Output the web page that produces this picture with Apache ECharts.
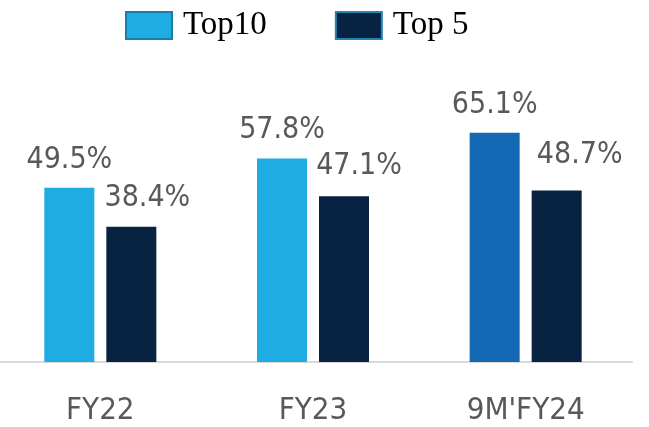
<!DOCTYPE html>
<html>
<head>
<meta charset="utf-8">
<script src="https://cdn.jsdelivr.net/npm/echarts@6/dist/echarts.min.js"></script>
<style>
  html, body { margin: 0; padding: 0; background: #fff; }
  #main { width: 649px; height: 427px; }
</style>
</head>
<body>
<div id="main"></div>
<script>
// data
const categories = ["FY22", "FY23", "9M'FY24"];
const top10 = [49.5, 57.8, 65.1];
const top5 = [38.4, 47.1, 48.7];
// Top 5 labels sit to the right of their bars in the original
const top5LabelShift = [[16, -1], [15, -2], [23, -7]];

const LIGHT = '#1FACE3';
const DARK_BLUE = '#1268B3';
const NAVY = '#082241';
const labelFont = '"Liberation Sans Narrow", "DejaVu Sans Condensed", sans-serif';

// last Top10 bar is a darker blue
const top10Data = top10.map((v, i) => i === 2 ? { value: v, itemStyle: { color: DARK_BLUE } } : v);
const top5Data = top5.map((v, i) => ({ value: v, label: { offset: top5LabelShift[i] } }));

const valueLabel = {
    show: true,
    position: 'top',
    distance: 13,
    color: '#595959',
    fontFamily: labelFont,
    fontSize: 30,
    formatter: p => p.value.toFixed(1) + '%'
};

let option = {
    animation: false,
    legend: {
        left: 125,
        top: 9,
        padding: 0,
        icon: 'rect',
        itemWidth: 46,
        itemHeight: 27,
        itemGap: 68,
        textStyle: {
            fontFamily: '"Liberation Serif", "DejaVu Serif", serif',
            fontSize: 33,
            color: '#000',
            padding: [0, 0, 0, 6]
        },
        data: [
            { name: 'Top10', itemStyle: { color: LIGHT, borderColor: '#1A7DAD', borderWidth: 2 } },
            { name: 'Top 5', itemStyle: { color: NAVY, borderColor: '#2584B5', borderWidth: 2 } }
        ]
    },
    grid: { left: -6, right: 17, top: 10, bottom: 65, outerBoundsMode: 'none' },
    xAxis: {
        type: 'category',
        data: categories,
        axisLine: { lineStyle: { color: '#D9D9D9', width: 2 } },
        axisTick: { show: false },
        axisLabel: {
            color: '#595959',
            fontFamily: labelFont,
            fontSize: 31,
            margin: 33
        }
    },
    yAxis: {
        type: 'value',
        min: 0,
        max: 100,
        show: false
    },
    series: [
        {
            name: 'Top10',
            type: 'bar',
            barWidth: 50,
            barGap: '24%',
            itemStyle: { color: LIGHT },
            label: valueLabel,
            data: top10Data
        },
        {
            name: 'Top 5',
            type: 'bar',
            barWidth: 50,
            itemStyle: { color: NAVY },
            label: valueLabel,
            data: top5Data
        }
    ]
};

var myChart = echarts.init(document.getElementById('main'));
myChart.setOption(option);
</script>
</body>
</html>
